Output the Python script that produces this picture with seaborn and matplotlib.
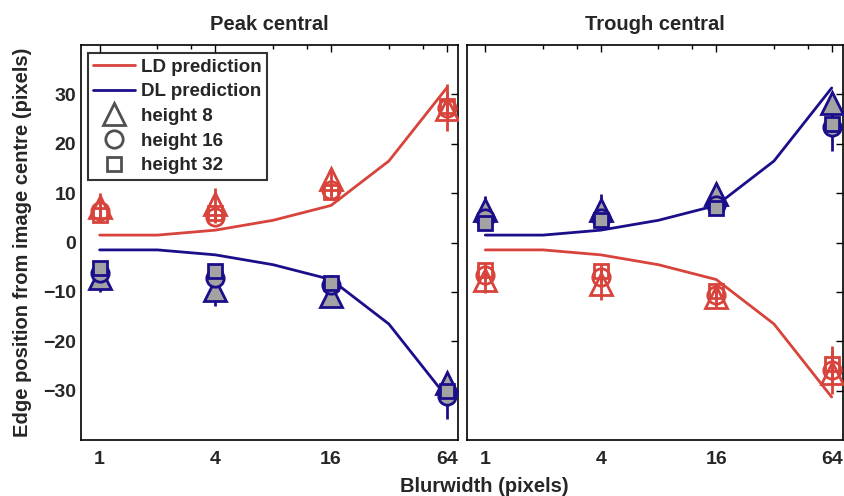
import seaborn as sns
import pandas as pd
import matplotlib.pyplot as plt
from matplotlib.lines import Line2D

# prediction curves (blur widths 1..64, octave steps)
pred_blur = [1, 2, 4, 8, 16, 32, 64]
pred_edge = [1.5, 1.5, 2.5, 4.5, 7.5, 16.5, 31.3]

# measured edge positions at blur widths 1, 4, 16, 64
blur = [1, 4, 16, 64]
peak_ld_h8 = [7.2, 7.8, 12.8, 27.0]
peak_ld_h16 = [6.4, 5.2, 10.6, 27.3]
peak_ld_h32 = [5.6, 5.9, 10.2, 27.6]
peak_dl_h8 = [-7.2, -9.6, -10.9, -28.5]
peak_dl_h16 = [-6.1, -7.1, -8.6, -31.0]
peak_dl_h32 = [-5.2, -5.8, -8.3, -30.1]
trough_dl_h8 = [6.6, 6.6, 9.9, 28.2]
trough_dl_h16 = [5.0, 5.0, 7.5, 23.4]
trough_dl_h32 = [4.0, 4.6, 7.0, 24.1]
trough_ld_h8 = [-7.5, -8.4, -11.0, -26.5]
trough_ld_h16 = [-6.6, -7.0, -10.6, -25.8]
trough_ld_h32 = [-5.6, -5.8, -9.9, -24.6]

# error bar half-widths
err_h8 = [2.8, 3.2, 2.2, 2.0]
err_h16 = [1.2, 1.2, 1.0, 4.8]
err_h32 = [1.5, 1.5, 1.2, 2.8]

xticks = [1, 4, 16, 64]
minor_xticks = [2, 3, 8, 12, 32, 48]

RED = '#d8433b'
NAVY = '#1b0e8a'
GRAY = '#a3a3a3'

sns.set_theme(style='white')
plt.rcParams['font.family'] = ['Liberation Sans', 'DejaVu Sans']
plt.rcParams['font.weight'] = 'bold'
FS = 13.5      # legend
FS_TICK = 14
FS_LAB = 14.5  # titles and axis labels

fig = plt.figure(figsize=(8.45, 4.96), dpi=100)
ax1 = fig.add_axes([81 / 845, 1 - 440 / 496, 377 / 845, 395 / 496])
ax2 = fig.add_axes([466.7 / 845, 1 - 440 / 496, 376.3 / 845, 395 / 496])

markers = {'h8': ('^', 15.5), 'h16': ('o', 12.5), 'h32': ('s', 10)}


def draw_points(ax, ys, color, filled):
    for key, vals, err in zip(['h8', 'h16', 'h32'], ys, [err_h8, err_h16, err_h32]):
        m, ms = markers[key]
        ax.errorbar(blur, vals, yerr=err, fmt=m, ms=ms,
                    mec=color, mew=2, mfc=GRAY if filled else 'none',
                    ecolor=color, elinewidth=2, capsize=0, zorder=3)


def draw_panel(ax, ld_sign, ld_pts, dl_pts, title):
    df = pd.DataFrame({'blur': pred_blur * 2,
                       'edge': [ld_sign * v for v in pred_edge] + [-ld_sign * v for v in pred_edge],
                       'model': ['LD'] * 7 + ['DL'] * 7})
    sns.lineplot(data=df, x='blur', y='edge', hue='model',
                 palette={'LD': RED, 'DL': NAVY}, linewidth=2, legend=False, ax=ax)
    draw_points(ax, ld_pts, RED, False)
    draw_points(ax, dl_pts, NAVY, True)
    ax.set_xscale('log', base=2)
    ax.set_xlim(0.8, 73.3)
    ax.set_ylim(-40, 40)
    ax.set_xticks(xticks)
    ax.set_xticklabels([str(t) for t in xticks], fontsize=FS_TICK, fontweight='bold')
    ax.set_xticks(minor_xticks, minor=True)
    ax.set_xticklabels([], minor=True)
    ax.set_yticks([-30, -20, -10, 0, 10, 20, 30])
    ax.tick_params(which='both', direction='in', top=True, right=True,
                   length=5, width=1, color='black')
    ax.tick_params(axis='x', which='major', pad=8)
    ax.tick_params(which='minor', length=3)
    ax.set_xlabel('')
    ax.set_ylabel('')
    ax.set_title(title, fontsize=FS_LAB, fontweight='bold', pad=11)
    for s in ax.spines.values():
        s.set_color('black')
        s.set_linewidth(1.2)


draw_panel(ax1, 1, [peak_ld_h8, peak_ld_h16, peak_ld_h32],
           [peak_dl_h8, peak_dl_h16, peak_dl_h32], 'Peak central')
draw_panel(ax2, -1, [trough_ld_h8, trough_ld_h16, trough_ld_h32],
           [trough_dl_h8, trough_dl_h16, trough_dl_h32], 'Trough central')

ax1.set_yticklabels(['\u221230', '\u221220', '\u221210', '0', '10', '20', '30'],
                    fontsize=FS_TICK, fontweight='bold')
ax2.set_yticklabels([])

handles = [
    Line2D([], [], color=RED, lw=2),
    Line2D([], [], color=NAVY, lw=2),
    Line2D([], [], ls='none', marker='^', ms=15.5, mfc='none', mec='#505050', mew=2),
    Line2D([], [], ls='none', marker='o', ms=12.5, mfc='none', mec='#505050', mew=2),
    Line2D([], [], ls='none', marker='s', ms=10, mfc='none', mec='#505050', mew=2),
]
labels = ['LD prediction', 'DL prediction', 'height 8', 'height 16', 'height 32']
leg = ax1.legend(handles, labels, loc='upper left', bbox_to_anchor=(0.018, 0.98),
                 frameon=True, fancybox=False, fontsize=FS, handlelength=2.2,
                 handletextpad=0.35, borderpad=0.3, labelspacing=0.4, borderaxespad=0)
leg.get_frame().set_edgecolor('black')
leg.get_frame().set_linewidth(1.5)
for t in leg.get_texts():
    t.set_fontweight('bold')

fig.text(23 / 845, 1 - 242 / 496, 'Edge position from image centre (pixels)',
         rotation=90, ha='center', va='center', fontsize=FS_LAB, fontweight='bold')
fig.text(484 / 845, 1 - 492 / 496, 'Blurwidth (pixels)',
         ha='center', va='baseline', fontsize=FS_LAB, fontweight='bold')

fig.savefig('out.png', dpi=100)
